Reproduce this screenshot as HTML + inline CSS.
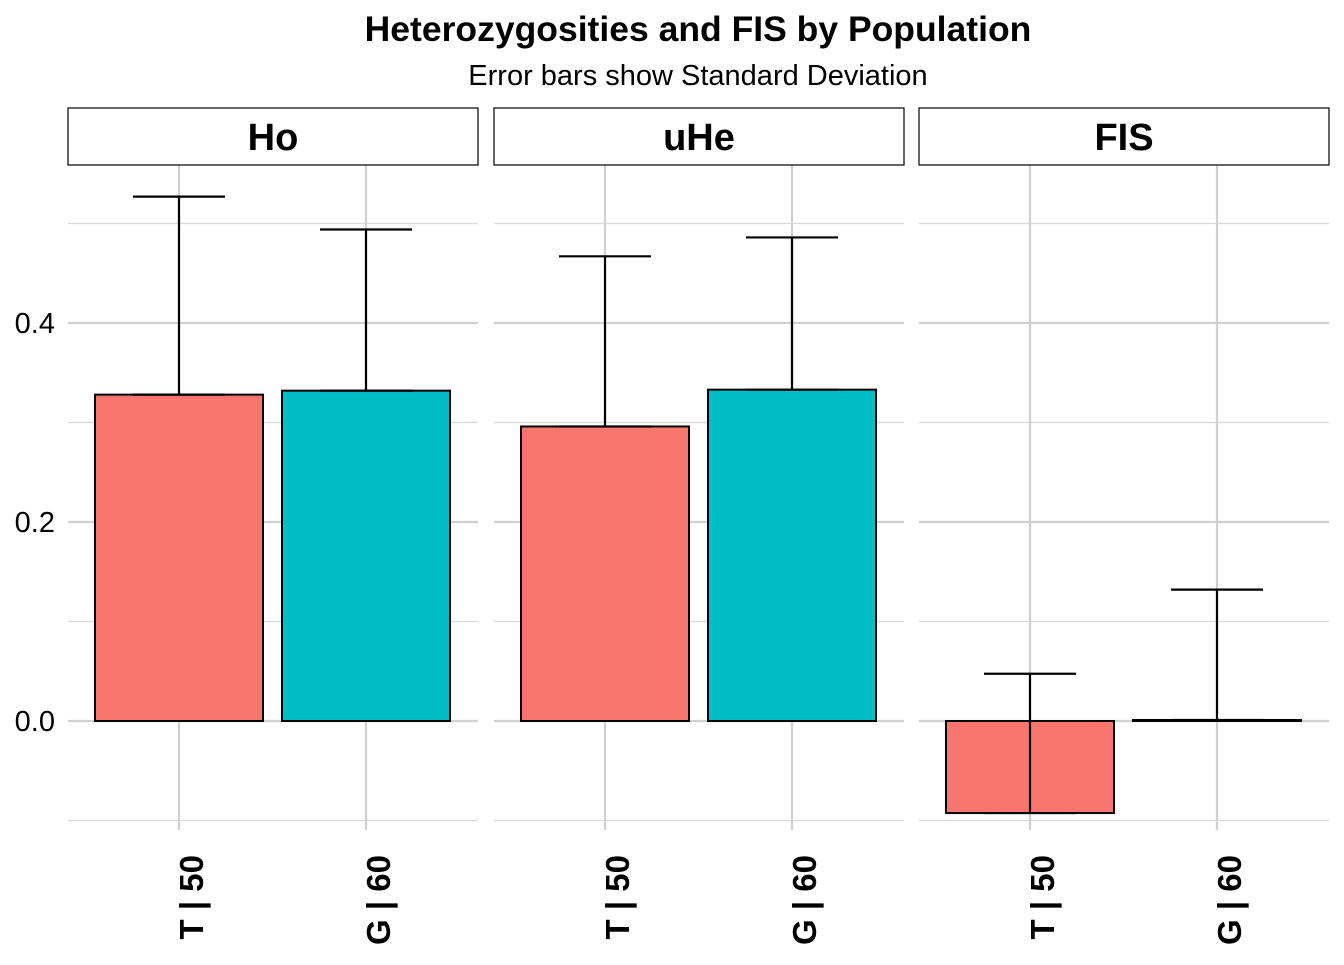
<!DOCTYPE html>
<html><head><meta charset="utf-8"><style>
body{margin:0;background:#fff;font-family:"Liberation Sans",sans-serif}
</style></head><body>
<svg id="c" width="1344" height="960" xmlns="http://www.w3.org/2000/svg" font-family="Liberation Sans, sans-serif">
<text x="698" y="41" text-anchor="middle" font-size="35.5" font-weight="bold">Heterozygosities and FIS by Population</text>
<text x="698" y="85" text-anchor="middle" font-size="29">Error bars show Standard Deviation</text>
<g id="plot"></g>
</svg>
<script>
const panels=["Ho","uHe","FIS"];
const categories=["T | 50","G | 60"];
const meansHo=[0.328,0.332];
const meansUHe=[0.296,0.333];
const meansFIS=[-0.0925,0.001];
const sdHo=[0.199,0.162];
const sdUHe=[0.171,0.153];
const sdFIS=[0.140,0.131];
const yTicks=[0.0,0.2,0.4];
const yTickLabels=["0.0","0.2","0.4"];
const minorTicks=[-0.1,0.1,0.3,0.5];
const colors=["#F8766D","#00BFC4"];
const means=[meansHo,meansUHe,meansFIS], sds=[sdHo,sdUHe,sdFIS];
const NS="http://www.w3.org/2000/svg";
const g=document.getElementById("plot");
function y(v){return 721-v*995;}
const panelX=[68,494,919], pw=410, plotTop=165, plotBottom=830;
function el(t,a,p){const e=document.createElementNS(NS,t);for(const k in a)e.setAttribute(k,a[k]);(p||g).appendChild(e);return e;}
function xc(pi,ci){return panelX[pi]+111+ci*187;}
yTicks.forEach((v,i)=>{
  const t=el("text",{x:55,y:y(v)+10,"text-anchor":"end","font-size":29,fill:"#000"});
  t.textContent=yTickLabels[i];
  
  
});
panels.forEach((p,pi)=>{
  const x0=panelX[pi];
  minorTicks.forEach(v=>{const l=el("line",{x1:x0,x2:x0+pw,y1:y(v),y2:y(v),stroke:"#d9d9d9","stroke-width":1.2});});
  yTicks.forEach(v=>{const l=el("line",{x1:x0,x2:x0+pw,y1:y(v),y2:y(v),stroke:"#d0d0d0","stroke-width":2.2});});
  categories.forEach((c,ci)=>{const l=el("line",{x1:xc(pi,ci),x2:xc(pi,ci),y1:plotTop,y2:plotBottom,stroke:"#d0d0d0","stroke-width":2.2});});
  const s=el("rect",{x:x0,y:108,width:pw,height:57,fill:"#fff",stroke:"#000","stroke-width":1.2});
  
  
  const st=el("text",{x:x0+pw/2,y:150,"text-anchor":"middle","font-size":38,"font-weight":"bold"});
  st.textContent=p;
  
  
  categories.forEach((c,ci)=>{
    const m=means[pi][ci], sd=sds[pi][ci], cx=xc(pi,ci);
    const y1=Math.min(y(m),y(0)), h=Math.abs(y(m)-y(0));
    const b=el("rect",{x:cx-84,y:y1,width:168,height:Math.max(h,0.5),fill:colors[ci],stroke:"#000","stroke-width":2});
    
    
    const eg=el("g",{stroke:"#000","stroke-width":2.2});
    
    
    el("line",{x1:cx,x2:cx,y1:y(m),y2:y(m+sd)},eg);
    el("line",{x1:cx-46,x2:cx+46,y1:y(m+sd),y2:y(m+sd)},eg);
    el("line",{x1:cx-46,x2:cx+46,y1:y(m),y2:y(m)},eg);
    const t=el("text",{x:0,y:0,"text-anchor":"end","font-size":33,"font-weight":"bold",transform:`translate(${cx+24},855) rotate(-90)`});
    t.textContent=c;
    
    
  });
});
</script>
</body></html>
